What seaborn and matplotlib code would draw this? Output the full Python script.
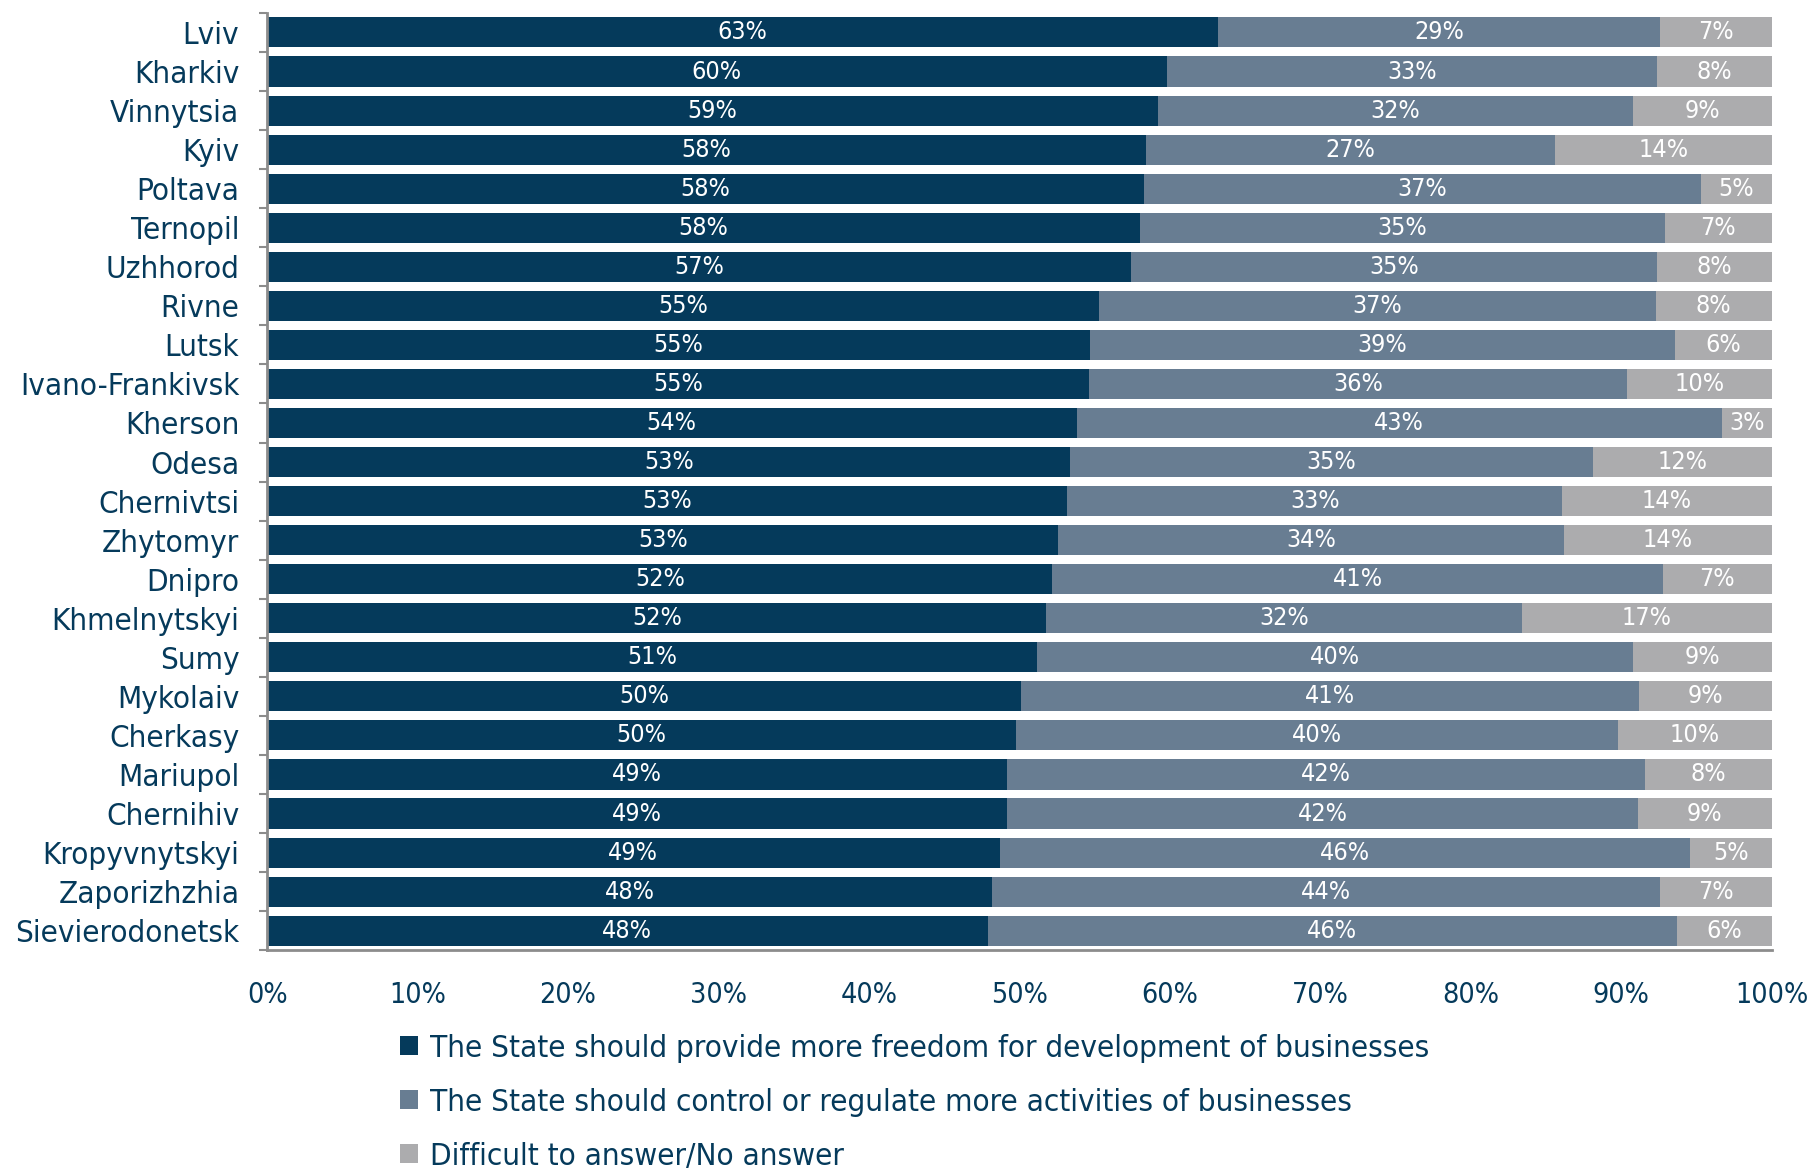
import numpy as np
import pandas as pd
import seaborn as sns
import matplotlib.pyplot as plt
import matplotlib.ticker as ticker
from matplotlib.patches import Patch

# dados
cidades = ['Lviv', 'Kharkiv', 'Vinnytsia', 'Kyiv', 'Poltava', 'Ternopil', 'Uzhhorod',
           'Rivne', 'Lutsk', 'Ivano-Frankivsk', 'Kherson', 'Odesa', 'Chernivtsi',
           'Zhytomyr', 'Dnipro', 'Khmelnytskyi', 'Sumy', 'Mykolaiv', 'Cherkasy',
           'Mariupol', 'Chernihiv', 'Kropyvnytskyi', 'Zaporizhzhia', 'Sievierodonetsk']
liberdade = [63.2, 59.8, 59.2, 58.4, 58.3, 58.0, 57.4, 55.3, 54.7, 54.6, 53.8, 53.4,
             53.2, 52.6, 52.2, 51.8, 51.2, 50.1, 49.8, 49.2, 49.2, 48.7, 48.2, 47.9]
controle = [29.4, 32.6, 31.6, 27.2, 37.0, 34.9, 35.0, 37.0, 38.9, 35.8, 42.9, 34.7,
            32.9, 33.6, 40.6, 31.6, 39.6, 41.1, 40.0, 42.4, 41.9, 45.9, 44.4, 45.8]
nao_sabe = [7.4, 7.6, 9.2, 14.4, 4.7, 7.1, 7.6, 7.7, 6.4, 9.6, 3.3, 11.9,
            13.9, 13.8, 7.2, 16.6, 9.2, 8.8, 10.2, 8.4, 8.9, 5.4, 7.4, 6.3]
legendas = ['The State should provide more freedom for development of businesses',
            'The State should control or regulate more activities of businesses',
            'Difficult to answer/No answer']

cores = ['#053a5b', '#687d92', '#acacae']
cor_texto = '#053a5b'
cor_eixo = '#8c8c8c'

df = pd.DataFrame({'cidade': cidades, 'liberdade': liberdade,
                   'controle': controle, 'nao_sabe': nao_sabe})
df['c1'] = df['liberdade']
df['c2'] = df['liberdade'] + df['controle']
df['c3'] = df['c2'] + df['nao_sabe']

sns.set_style('white')
plt.rcParams['font.family'] = ['DejaVu Sans']
fonte = dict(family='DejaVu Sans', stretch='condensed')

fig = plt.figure(figsize=(18.12, 11.76), dpi=100)
ax = fig.add_axes([0.1474, 0.192, 0.8303, 0.797])

for col, cor in zip(['c3', 'c2', 'c1'], cores[::-1]):
    sns.barplot(data=df, y='cidade', x=col, color=cor, orient='h', width=0.77,
                saturation=1, ax=ax, linewidth=0)

# rótulos dos segmentos
for i, row in df.iterrows():
    inicio = 0
    for col in ['liberdade', 'controle', 'nao_sabe']:
        v = row[col]
        ax.text(inicio + v / 2, i, f'{v:.0f}%', ha='center', va='center',
                color='white', fontsize=18, **fonte)
        inicio += v

ax.set_xlim(0, 100)
ax.set_ylim(len(cidades) - 0.5, -0.5)
ax.set_xlabel('')
ax.set_ylabel('')
ax.xaxis.set_major_locator(ticker.MultipleLocator(10))
ax.xaxis.set_major_formatter(ticker.FuncFormatter(lambda v, p: f'{v:.0f}%'))
ax.yaxis.set_minor_locator(ticker.FixedLocator(np.arange(-0.5, len(cidades), 1)))

for s in ['top', 'right']:
    ax.spines[s].set_visible(False)
for s in ['left', 'bottom']:
    ax.spines[s].set_color(cor_eixo)
    ax.spines[s].set_linewidth(2)

ax.tick_params(axis='x', which='major', direction='out', length=9, width=1.5,
               color=cor_eixo, pad=13, labelsize=20.5, labelcolor=cor_texto)
ax.tick_params(axis='y', which='major', length=0, pad=20, labelsize=22.5,
               labelcolor=cor_texto)
ax.tick_params(axis='y', which='minor', direction='out', length=6, width=1.5,
               color=cor_eixo, left=True)
for lab in ax.get_xticklabels() + ax.get_yticklabels():
    lab.set_fontstretch('condensed')

handles = [Patch(facecolor=c, edgecolor='none') for c in cores]
leg = fig.legend(handles, legendas, loc='upper left', bbox_to_anchor=(0.221, 0.121),
                 frameon=False, handlelength=0.55, handleheight=0.55, handletextpad=0.4,
                 labelspacing=0.8, borderpad=0, borderaxespad=0,
                 prop=dict(size=22.5, family='DejaVu Sans', stretch='condensed'))
for t in leg.get_texts():
    t.set_color(cor_texto)

fig.savefig('out.png', dpi=100)
